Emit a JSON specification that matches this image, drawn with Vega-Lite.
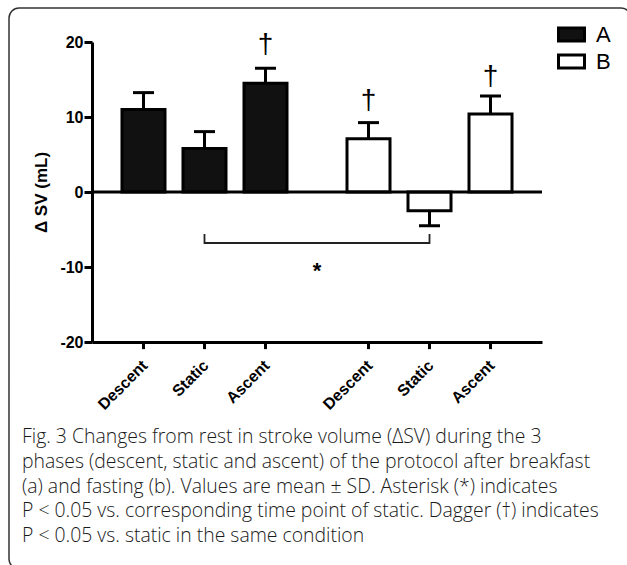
{
  "$schema": "https://vega.github.io/schema/vega-lite/v6.json",
  "width": 622,
  "height": 561,
  "autosize": {"type": "none"},
  "padding": {"left": 9, "top": 8, "right": -4, "bottom": -4},
  "background": "white",
  "config": {
    "view": {"stroke": "#333333", "strokeWidth": 1.5, "cornerRadius": 10, "fill": "white"},
    "font": "Liberation Sans, Arial, Helvetica, sans-serif",
    "axis": {"domainColor": "black", "tickColor": "black", "labelColor": "black", "titleColor": "black", "domainWidth": 3, "tickWidth": 3, "grid": false, "labelFont": "Liberation Sans, Arial, Helvetica, sans-serif", "titleFont": "Liberation Sans, Arial, Helvetica, sans-serif"}
  },
  "title": {
    "text": [
      "Fig. 3 Changes from rest in stroke volume (ΔSV) during the 3",
      "phases (descent, static and ascent) of the protocol after breakfast",
      "(a) and fasting (b). Values are mean ± SD. Asterisk (*) indicates",
      "P < 0.05 vs. corresponding time point of static. Dagger (†) indicates",
      "P < 0.05 vs. static in the same condition"
    ],
    "orient": "bottom",
    "anchor": "start",
    "frame": "group",
    "offset": -141,
    "dx": 13,
    "font": "Open Sans",
    "fontSize": 19.4,
    "fontWeight": 300,
    "lineHeight": 24.8,
    "color": "#1a1a1a"
  },
  "datasets": {
    "bars": [
      {"group": "A", "phase": "Descent", "mean": 11.0, "err": 13.25},
      {"group": "A", "phase": "Static", "mean": 5.8, "err": 8.05},
      {"group": "A", "phase": "Ascent", "mean": 14.5, "err": 16.5},
      {"group": "B", "phase": "Descent", "mean": 7.1, "err": 9.25},
      {"group": "B", "phase": "Static", "mean": -2.5, "err": -4.5},
      {"group": "B", "phase": "Ascent", "mean": 10.4, "err": 12.8}
    ],
    "daggers": [
      {"group": "A", "phase": "Ascent", "y": 19.6},
      {"group": "B", "phase": "Descent", "y": 12.2},
      {"group": "B", "phase": "Ascent", "y": 15.3}
    ],
    "bracket": [
      {"group": "A", "phase": "Static", "y": -5.6, "seq": 1},
      {"group": "A", "phase": "Static", "y": -6.8, "seq": 2},
      {"group": "B", "phase": "Static", "y": -6.8, "seq": 3},
      {"group": "B", "phase": "Static", "y": -5.6, "seq": 4}
    ],
    "star": [
      {"group": "A", "y": -10.5}
    ]
  },
  "layer": [
    {
      "layer": [
        {
          "data": {"name": "bars"},
          "mark": {"type": "bar", "stroke": "black", "strokeWidth": 3},
          "encoding": {
            "x": {"field": "group", "type": "nominal",
                  "scale": {"domain": ["A", "B"], "range": [83, 533], "paddingInner": 0.1867, "paddingOuter": 0.0933},
                  "axis": {"orient": "bottom", "offset": -227, "ticks": false, "labels": false, "title": null, "domainWidth": 3}},
            "xOffset": {"field": "phase", "type": "nominal",
                  "scale": {"domain": ["Descent", "Static", "Ascent"], "paddingInner": 0.295, "paddingOuter": 0.1475}},
            "y": {"field": "mean", "type": "quantitative",
                  "scale": {"domain": [-20, 20], "range": [334, 34], "nice": false, "zero": false},
                  "axis": {"orient": "left", "offset": -83, "values": [-20, -10, 0, 10, 20], "title": "Δ SV (mL)",
                           "labelExpr": "replace(datum.label, '−', '-')",
                           "titleFontSize": 17, "titleFontWeight": "bold", "labelFontSize": 16, "labelFontWeight": "bold",
                           "tickSize": 8, "labelPadding": 1, "titlePadding": 9}},
            "y2": {"datum": 0},
            "fill": {"field": "group", "type": "nominal",
                     "scale": {"domain": ["A", "B"], "range": ["#111111", "#ffffff"]},
                     "legend": {"orient": "none", "legendX": 548, "legendY": 12, "title": null,
                                "symbolType": "M-1,-0.5H1V0.5H-1Z", "symbolSize": 676,
                                "symbolStrokeColor": "black", "symbolStrokeWidth": 3,
                                "labelFontSize": 22, "labelFont": "Liberation Sans, Arial, Helvetica, sans-serif", "labelColor": "black",
                                "labelOffset": 10, "rowPadding": 0, "padding": 0}}
          }
        },
        {
          "data": {"name": "bars"},
          "mark": {"type": "rule", "color": "black", "strokeWidth": 3},
          "encoding": {
            "x": {"field": "group", "type": "nominal"},
            "xOffset": {"field": "phase", "type": "nominal"},
            "y": {"field": "mean", "type": "quantitative", "scale": {"domain": [-20, 20], "range": [334, 34], "nice": false, "zero": false}},
            "y2": {"field": "err"}
          }
        },
        {
          "data": {"name": "bars"},
          "mark": {"type": "tick", "orient": "horizontal", "size": 21, "thickness": 3, "color": "black", "opacity": 1},
          "encoding": {
            "x": {"field": "group", "type": "nominal"},
            "xOffset": {"field": "phase", "type": "nominal"},
            "y": {"field": "err", "type": "quantitative", "scale": {"domain": [-20, 20], "range": [334, 34], "nice": false, "zero": false}}
          }
        },
        {
          "data": {"name": "bars"},
          "mark": {"type": "rule", "color": "black", "strokeWidth": 3},
          "encoding": {
            "x": {"field": "group", "type": "nominal"},
            "xOffset": {"field": "phase", "type": "nominal"},
            "y": {"datum": -20, "type": "quantitative", "scale": {"domain": [-20, 20], "range": [334, 34], "nice": false, "zero": false}},
            "y2": {"datum": -20.95}
          }
        },
        {
          "data": {"name": "bars"},
          "mark": {"type": "text", "angle": 315, "align": "right", "baseline": "middle", "fontSize": 16, "fontWeight": "bold", "font": "Liberation Sans, Arial, Helvetica, sans-serif", "color": "black", "dx": 2},
          "encoding": {
            "x": {"field": "group", "type": "nominal"},
            "xOffset": {"field": "phase", "type": "nominal"},
            "y": {"datum": -23, "type": "quantitative", "scale": {"domain": [-20, 20], "range": [334, 34], "nice": false, "zero": false}},
            "text": {"field": "phase"}
          }
        },
        {
          "data": {"name": "daggers"},
          "mark": {"type": "text", "text": "†", "baseline": "middle", "align": "center", "fontSize": 28, "font": "Liberation Sans, Arial, Helvetica, sans-serif", "color": "black"},
          "encoding": {
            "x": {"field": "group", "type": "nominal"},
            "xOffset": {"field": "phase", "type": "nominal"},
            "y": {"field": "y", "type": "quantitative", "scale": {"domain": [-20, 20], "range": [334, 34], "nice": false, "zero": false}}
          }
        },
        {
          "data": {"name": "bracket"},
          "mark": {"type": "line", "color": "#222222", "strokeWidth": 1.8},
          "encoding": {
            "x": {"field": "group", "type": "nominal"},
            "xOffset": {"field": "phase", "type": "nominal"},
            "y": {"field": "y", "type": "quantitative", "scale": {"domain": [-20, 20], "range": [334, 34], "nice": false, "zero": false}},
            "order": {"field": "seq"}
          }
        },
        {
          "data": {"name": "star"},
          "mark": {"type": "text", "text": "*", "dx": 21, "baseline": "middle", "align": "center", "fontSize": 22, "fontWeight": "bold", "font": "Liberation Sans, Arial, Helvetica, sans-serif", "color": "black"},
          "encoding": {
            "x": {"field": "group", "type": "nominal", "bandPosition": 1},
            "y": {"field": "y", "type": "quantitative", "scale": {"domain": [-20, 20], "range": [334, 34], "nice": false, "zero": false}}
          }
        }
      ]
    },
    {
      "data": {"values": [{}]},
      "mark": {"type": "rule", "color": "black", "strokeWidth": 3},
      "encoding": {
        "x": {"datum": 0, "type": "quantitative", "scale": {"domain": [0, 1], "range": [83, 533]}, "axis": null},
        "x2": {"datum": 1},
        "y": {"datum": 0, "type": "quantitative", "scale": {"domain": [-20, 20], "range": [334, 34], "nice": false, "zero": false}}
      }
    }
  ],
  "resolve": {"scale": {"x": "independent"}}
}
